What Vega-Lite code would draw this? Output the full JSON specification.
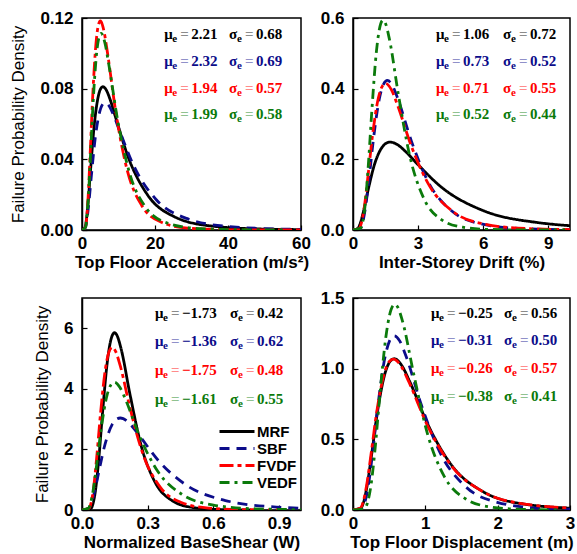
{
"$schema": "https://vega.github.io/schema/vega-lite/v6.json",
"background": "white",
"padding": {"left": 9, "top": 8, "right": 2, "bottom": 2},
"config": {
  "view": {"stroke": "black", "strokeWidth": 1.5},
  "axis": {"domainColor": "black", "domainWidth": 1.5, "tickColor": "black", "tickSize": -5, "tickWidth": 1.2, "grid": false,
    "labelFont": "Liberation Sans", "labelFontWeight": "bold", "labelFontSize": 17, "labelColor": "black", "labelFlush": false, "labelOverlap": false,
    "titleFont": "Liberation Sans", "titleFontSize": 17, "titleColor": "black"},
  "axisX": {"titleFontWeight": "bold", "labelPadding": 10, "titlePadding": 3},
  "axisY": {"titleFontWeight": "normal", "labelPadding": 14, "titlePadding": 12}
},
"datasets": {
"A": [
{"s":"MRF","x":0,"y":0},{"s":"MRF","x":0.8437,"y":0.001522},{"s":"MRF","x":1.185,"y":0.005499},{"s":"MRF","x":1.665,"y":0.01548},{"s":"MRF","x":2.34,"y":0.03394},{"s":"MRF","x":3.287,"y":0.05794},{"s":"MRF","x":4.618,"y":0.07705},{"s":"MRF","x":5.474,"y":0.0809},{"s":"MRF","x":5.741,"y":0.08111},{"s":"MRF","x":6.488,"y":0.0798},{"s":"MRF","x":7.691,"y":0.07394},{"s":"MRF","x":9.116,"y":0.06436},{"s":"MRF","x":12.81,"y":0.04043},{"s":"MRF","x":17.99,"y":0.01978},{"s":"MRF","x":25.28,"y":0.007534},{"s":"MRF","x":35.52,"y":0.002236},{"s":"MRF","x":49.9,"y":0.0005166},{"s":"MRF","x":70.11,"y":0.000093},
{"s":"SBF","x":0,"y":0},{"s":"SBF","x":0.9094,"y":0.001391},{"s":"SBF","x":1.284,"y":0.005002},{"s":"SBF","x":1.813,"y":0.01401},{"s":"SBF","x":2.56,"y":0.03057},{"s":"SBF","x":3.615,"y":0.05193},{"s":"SBF","x":5.104,"y":0.06871},{"s":"SBF","x":6.065,"y":0.07196},{"s":"SBF","x":6.321,"y":0.07209},{"s":"SBF","x":7.207,"y":0.0708},{"s":"SBF","x":8.564,"y":0.06544},{"s":"SBF","x":10.18,"y":0.05682},{"s":"SBF","x":14.37,"y":0.03551},{"s":"SBF","x":20.29,"y":0.01729},{"s":"SBF","x":28.65,"y":0.006553},{"s":"SBF","x":40.45,"y":0.001935},{"s":"SBF","x":57.11,"y":0.0004448},{"s":"SBF","x":80.64,"y":0.0000797},
{"s":"FVDF","x":0,"y":0},{"s":"FVDF","x":0.9464,"y":0.001618},{"s":"FVDF","x":1.259,"y":0.006178},{"s":"FVDF","x":1.674,"y":0.01837},{"s":"FVDF","x":2.225,"y":0.04256},{"s":"FVDF","x":2.959,"y":0.07678},{"s":"FVDF","x":3.935,"y":0.1079},{"s":"FVDF","x":4.538,"y":0.1164},{"s":"FVDF","x":5.028,"y":0.1183},{"s":"FVDF","x":5.233,"y":0.118},{"s":"FVDF","x":6.034,"y":0.1124},{"s":"FVDF","x":6.958,"y":0.1006},{"s":"FVDF","x":9.253,"y":0.06675},{"s":"FVDF","x":12.3,"y":0.0345},{"s":"FVDF","x":16.36,"y":0.01389},{"s":"FVDF","x":21.76,"y":0.004353},{"s":"FVDF","x":28.93,"y":0.001063},{"s":"FVDF","x":38.47,"y":0.0002021},{"s":"FVDF","x":51.16,"y":0.0000299},{"s":"FVDF","x":68.0,"y":0.000003},
{"s":"VEDF","x":0,"y":0},{"s":"VEDF","x":0.9608,"y":0.001567},{"s":"VEDF","x":1.284,"y":0.005951},{"s":"VEDF","x":1.716,"y":0.01761},{"s":"VEDF","x":2.293,"y":0.04059},{"s":"VEDF","x":3.065,"y":0.07286},{"s":"VEDF","x":4.096,"y":0.1019},{"s":"VEDF","x":4.735,"y":0.1097},{"s":"VEDF","x":5.226,"y":0.1113},{"s":"VEDF","x":5.474,"y":0.1109},{"s":"VEDF","x":6.328,"y":0.1054},{"s":"VEDF","x":7.315,"y":0.09403},{"s":"VEDF","x":9.776,"y":0.06209},{"s":"VEDF","x":13.07,"y":0.03193},{"s":"VEDF","x":17.46,"y":0.01279},{"s":"VEDF","x":23.34,"y":0.003989},{"s":"VEDF","x":31.19,"y":0.0009691},{"s":"VEDF","x":41.68,"y":0.0001834},{"s":"VEDF","x":55.7,"y":0.000027}
],
"B": [
{"s":"MRF","x":0,"y":0},{"s":"MRF","x":0.2322,"y":0.005221},{"s":"MRF","x":0.3329,"y":0.01849},{"s":"MRF","x":0.4771,"y":0.05102},{"s":"MRF","x":0.6839,"y":0.1097},{"s":"MRF","x":0.9802,"y":0.1835},{"s":"MRF","x":1.405,"y":0.2392},{"s":"MRF","x":1.682,"y":0.2487},{"s":"MRF","x":1.719,"y":0.2488},{"s":"MRF","x":2.014,"y":0.2428},{"s":"MRF","x":2.411,"y":0.2228},{"s":"MRF","x":2.886,"y":0.192},{"s":"MRF","x":4.137,"y":0.1182},{"s":"MRF","x":5.93,"y":0.05667},{"s":"MRF","x":8.499,"y":0.02117},{"s":"MRF","x":12.18,"y":0.006155},
{"s":"SBF","x":0,"y":0},{"s":"SBF","x":0.3362,"y":0.004993},{"s":"SBF","x":0.4361,"y":0.01955},{"s":"SBF","x":0.5655,"y":0.05961},{"s":"SBF","x":0.7334,"y":0.1416},{"s":"SBF","x":0.9512,"y":0.2618},{"s":"SBF","x":1.234,"y":0.3772},{"s":"SBF","x":1.405,"y":0.4122},{"s":"SBF","x":1.584,"y":0.4232},{"s":"SBF","x":1.822,"y":0.4081},{"s":"SBF","x":2.075,"y":0.3697},{"s":"SBF","x":2.691,"y":0.2516},{"s":"SBF","x":3.49,"y":0.1333},{"s":"SBF","x":4.527,"y":0.05502},{"s":"SBF","x":5.871,"y":0.01769},{"s":"SBF","x":7.614,"y":0.004427},{"s":"SBF","x":9.875,"y":0.0008631},{"s":"SBF","x":12.81,"y":0.000131},
{"s":"FVDF","x":0,"y":0},{"s":"FVDF","x":0.2967,"y":0.00535},{"s":"FVDF","x":0.3906,"y":0.02063},{"s":"FVDF","x":0.5143,"y":0.06197},{"s":"FVDF","x":0.6771,"y":0.145},{"s":"FVDF","x":0.8914,"y":0.2642},{"s":"FVDF","x":1.174,"y":0.3749},{"s":"FVDF","x":1.347,"y":0.4066},{"s":"FVDF","x":1.503,"y":0.4148},{"s":"FVDF","x":1.773,"y":0.3966},{"s":"FVDF","x":2.034,"y":0.3566},{"s":"FVDF","x":2.678,"y":0.239},{"s":"FVDF","x":3.525,"y":0.1248},{"s":"FVDF","x":4.641,"y":0.05074},{"s":"FVDF","x":6.11,"y":0.01607},{"s":"FVDF","x":8.044,"y":0.003962},{"s":"FVDF","x":10.59,"y":0.000761},
{"s":"VEDF","x":0,"y":0},{"s":"VEDF","x":0.3606,"y":0.005502},{"s":"VEDF","x":0.4493,"y":0.02242},{"s":"VEDF","x":0.5599,"y":0.07115},{"s":"VEDF","x":0.6977,"y":0.1759},{"s":"VEDF","x":0.8694,"y":0.3386},{"s":"VEDF","x":1.083,"y":0.5077},{"s":"VEDF","x":1.209,"y":0.566},{"s":"VEDF","x":1.35,"y":0.5928},{"s":"VEDF","x":1.386,"y":0.5938},{"s":"VEDF","x":1.507,"y":0.5832},{"s":"VEDF","x":1.682,"y":0.539},{"s":"VEDF","x":2.096,"y":0.3818},{"s":"VEDF","x":2.612,"y":0.2106},{"s":"VEDF","x":3.254,"y":0.09045},{"s":"VEDF","x":4.055,"y":0.03026},{"s":"VEDF","x":5.053,"y":0.007884},{"s":"VEDF","x":6.297,"y":0.0016},{"s":"VEDF","x":7.846,"y":0.000253},{"s":"VEDF","x":9.777,"y":0.000031}
],
"C": [
{"s":"MRF","x":0,"y":0},{"s":"MRF","x":0.04076,"y":0.05099},{"s":"MRF","x":0.05029,"y":0.2098},{"s":"MRF","x":0.06204,"y":0.6727},{"s":"MRF","x":0.07654,"y":1.68},{"s":"MRF","x":0.09442,"y":3.266},{"s":"MRF","x":0.1165,"y":4.946},{"s":"MRF","x":0.1294,"y":5.542},{"s":"MRF","x":0.1437,"y":5.833},{"s":"MRF","x":0.1486,"y":5.852},{"s":"MRF","x":0.1596,"y":5.768},{"s":"MRF","x":0.1773,"y":5.358},{"s":"MRF","x":0.2187,"y":3.833},{"s":"MRF","x":0.2698,"y":2.135},{"s":"MRF","x":0.3329,"y":0.9264},{"s":"MRF","x":0.4107,"y":0.313},{"s":"MRF","x":0.5066,"y":0.08238},{"s":"MRF","x":0.625,"y":0.01688},{"s":"MRF","x":0.7711,"y":0.002696},
{"s":"SBF","x":0,"y":0},{"s":"SBF","x":0.02931,"y":0.04805},{"s":"SBF","x":0.03995,"y":0.1789},{"s":"SBF","x":0.05448,"y":0.519},{"s":"SBF","x":0.07427,"y":1.172},{"s":"SBF","x":0.1013,"y":2.063},{"s":"SBF","x":0.1381,"y":2.827},{"s":"SBF","x":0.1612,"y":3.013},{"s":"SBF","x":0.1747,"y":3.038},{"s":"SBF","x":0.1882,"y":3.017},{"s":"SBF","x":0.2198,"y":2.837},{"s":"SBF","x":0.2567,"y":2.507},{"s":"SBF","x":0.3499,"y":1.623},{"s":"SBF","x":0.4771,"y":0.818},{"s":"SBF","x":0.6505,"y":0.3211},{"s":"SBF","x":0.8869,"y":0.09818},{"s":"SBF","x":1.209,"y":0.02338},
{"s":"FVDF","x":0,"y":0},{"s":"FVDF","x":0.03239,"y":0.05616},{"s":"FVDF","x":0.04117,"y":0.2243},{"s":"FVDF","x":0.05234,"y":0.6977},{"s":"FVDF","x":0.06654,"y":1.691},{"s":"FVDF","x":0.08459,"y":3.19},{"s":"FVDF","x":0.1075,"y":4.688},{"s":"FVDF","x":0.1212,"y":5.175},{"s":"FVDF","x":0.138,"y":5.367},{"s":"FVDF","x":0.1541,"y":5.227},{"s":"FVDF","x":0.1738,"y":4.783},{"s":"FVDF","x":0.2209,"y":3.32},{"s":"FVDF","x":0.2808,"y":1.795},{"s":"FVDF","x":0.357,"y":0.7558},{"s":"FVDF","x":0.4538,"y":0.2478},{"s":"FVDF","x":0.577,"y":0.06329},{"s":"FVDF","x":0.7334,"y":0.01259},{"s":"FVDF","x":0.9324,"y":0.001951},
{"s":"VEDF","x":0,"y":0},{"s":"VEDF","x":0.02916,"y":0.05444},{"s":"VEDF","x":0.03839,"y":0.2099},{"s":"VEDF","x":0.05054,"y":0.6306},{"s":"VEDF","x":0.06654,"y":1.475},{"s":"VEDF","x":0.0876,"y":2.688},{"s":"VEDF","x":0.1153,"y":3.815},{"s":"VEDF","x":0.1323,"y":4.138},{"s":"VEDF","x":0.1477,"y":4.221},{"s":"VEDF","x":0.1518,"y":4.216},{"s":"VEDF","x":0.1742,"y":4.036},{"s":"VEDF","x":0.1999,"y":3.629},{"s":"VEDF","x":0.2632,"y":2.432},{"s":"VEDF","x":0.3465,"y":1.27},{"s":"VEDF","x":0.4561,"y":0.5163},{"s":"VEDF","x":0.6005,"y":0.1635},{"s":"VEDF","x":0.7906,"y":0.04031},{"s":"VEDF","x":1.041,"y":0.007742}
],
"D": [
{"s":"MRF","x":0,"y":0},{"s":"MRF","x":0.1097,"y":0.01421},{"s":"MRF","x":0.1452,"y":0.05453},{"s":"MRF","x":0.1921,"y":0.163},{"s":"MRF","x":0.2541,"y":0.3794},{"s":"MRF","x":0.3362,"y":0.6879},{"s":"MRF","x":0.4449,"y":0.9713},{"s":"MRF","x":0.5117,"y":1.051},{"s":"MRF","x":0.5692,"y":1.07},{"s":"MRF","x":0.5886,"y":1.068},{"s":"MRF","x":0.6771,"y":1.02},{"s":"MRF","x":0.7788,"y":0.9147},{"s":"MRF","x":1.03,"y":0.6101},{"s":"MRF","x":1.363,"y":0.3169},{"s":"MRF","x":1.804,"y":0.1282},{"s":"MRF","x":2.387,"y":0.04039},{"s":"MRF","x":3.158,"y":0.009911},
{"s":"SBF","x":0,"y":0},{"s":"SBF","x":0.1275,"y":0.0137},{"s":"SBF","x":0.1637,"y":0.05416},{"s":"SBF","x":0.2101,"y":0.1668},{"s":"SBF","x":0.2698,"y":0.4002},{"s":"SBF","x":0.3465,"y":0.7477},{"s":"SBF","x":0.4449,"y":1.088},{"s":"SBF","x":0.5041,"y":1.195},{"s":"SBF","x":0.5712,"y":1.233},{"s":"SBF","x":0.6473,"y":1.195},{"s":"SBF","x":0.7334,"y":1.088},{"s":"SBF","x":0.9418,"y":0.7477},{"s":"SBF","x":1.209,"y":0.4002},{"s":"SBF","x":1.553,"y":0.1668},{"s":"SBF","x":1.994,"y":0.05416},{"s":"SBF","x":2.56,"y":0.01369},{"s":"SBF","x":3.287,"y":0.002697},
{"s":"FVDF","x":0,"y":0},{"s":"FVDF","x":0.1049,"y":0.0146},{"s":"FVDF","x":0.1395,"y":0.05575},{"s":"FVDF","x":0.1854,"y":0.1658},{"s":"FVDF","x":0.2466,"y":0.3841},{"s":"FVDF","x":0.3279,"y":0.6929},{"s":"FVDF","x":0.4361,"y":0.9735},{"s":"FVDF","x":0.5028,"y":1.051},{"s":"FVDF","x":0.5572,"y":1.068},{"s":"FVDF","x":0.5798,"y":1.065},{"s":"FVDF","x":0.6687,"y":1.015},{"s":"FVDF","x":0.7711,"y":0.9077},{"s":"FVDF","x":1.025,"y":0.6024},{"s":"FVDF","x":1.363,"y":0.3114},{"s":"FVDF","x":1.813,"y":0.1253},{"s":"FVDF","x":2.411,"y":0.03929},{"s":"FVDF","x":3.206,"y":0.009592},
{"s":"VEDF","x":0,"y":0},{"s":"VEDF","x":0.1628,"y":0.01229},{"s":"VEDF","x":0.1999,"y":0.05083},{"s":"VEDF","x":0.2454,"y":0.1638},{"s":"VEDF","x":0.3012,"y":0.411},{"s":"VEDF","x":0.3697,"y":0.8032},{"s":"VEDF","x":0.4539,"y":1.222},{"s":"VEDF","x":0.5028,"y":1.373},{"s":"VEDF","x":0.5571,"y":1.449},{"s":"VEDF","x":0.578,"y":1.455},{"s":"VEDF","x":0.6172,"y":1.436},{"s":"VEDF","x":0.6839,"y":1.337},{"s":"VEDF","x":0.8395,"y":0.9615},{"s":"VEDF","x":1.03,"y":0.5384},{"s":"VEDF","x":1.265,"y":0.2348},{"s":"VEDF","x":1.553,"y":0.07972},{"s":"VEDF","x":1.906,"y":0.02108},{"s":"VEDF","x":2.34,"y":0.004343},{"s":"VEDF","x":2.872,"y":0.000697}
],
"notes": [
{"p":"A","s":"MRF","sym":"μ","v":"2.21","x":22.5,"y":0.111},{"p":"A","s":"MRF","sym":"σ","v":"0.68","x":40.3,"y":0.111},
{"p":"A","s":"SBF","sym":"μ","v":"2.32","x":22.5,"y":0.0958},{"p":"A","s":"SBF","sym":"σ","v":"0.69","x":40.3,"y":0.0958},
{"p":"A","s":"FVDF","sym":"μ","v":"1.94","x":22.5,"y":0.0806},{"p":"A","s":"FVDF","sym":"σ","v":"0.57","x":40.3,"y":0.0806},
{"p":"A","s":"VEDF","sym":"μ","v":"1.99","x":22.5,"y":0.0654},{"p":"A","s":"VEDF","sym":"σ","v":"0.58","x":40.3,"y":0.0654},
{"p":"B","s":"MRF","sym":"μ","v":"1.06","x":3.82,"y":0.555},{"p":"B","s":"MRF","sym":"σ","v":"0.72","x":6.91,"y":0.555},
{"p":"B","s":"SBF","sym":"μ","v":"0.73","x":3.82,"y":0.479},{"p":"B","s":"SBF","sym":"σ","v":"0.52","x":6.91,"y":0.479},
{"p":"B","s":"FVDF","sym":"μ","v":"0.71","x":3.82,"y":0.403},{"p":"B","s":"FVDF","sym":"σ","v":"0.55","x":6.91,"y":0.403},
{"p":"B","s":"VEDF","sym":"μ","v":"0.52","x":3.82,"y":0.327},{"p":"B","s":"VEDF","sym":"σ","v":"0.44","x":6.91,"y":0.327},
{"p":"C","s":"MRF","sym":"μ","v":"−1.73","x":0.333,"y":6.51},{"p":"C","s":"MRF","sym":"σ","v":"0.42","x":0.676,"y":6.51},
{"p":"C","s":"SBF","sym":"μ","v":"−1.36","x":0.333,"y":5.57},{"p":"C","s":"SBF","sym":"σ","v":"0.62","x":0.676,"y":5.57},
{"p":"C","s":"FVDF","sym":"μ","v":"−1.75","x":0.333,"y":4.61},{"p":"C","s":"FVDF","sym":"σ","v":"0.48","x":0.676,"y":4.61},
{"p":"C","s":"VEDF","sym":"μ","v":"−1.61","x":0.333,"y":3.66},{"p":"C","s":"VEDF","sym":"σ","v":"0.55","x":0.676,"y":3.66},
{"p":"D","s":"MRF","sym":"μ","v":"−0.25","x":1.078,"y":1.395},{"p":"D","s":"MRF","sym":"σ","v":"0.56","x":2.088,"y":1.395},
{"p":"D","s":"SBF","sym":"μ","v":"−0.31","x":1.078,"y":1.2},{"p":"D","s":"SBF","sym":"σ","v":"0.50","x":2.088,"y":1.2},
{"p":"D","s":"FVDF","sym":"μ","v":"−0.26","x":1.078,"y":1.005},{"p":"D","s":"FVDF","sym":"σ","v":"0.57","x":2.088,"y":1.005},
{"p":"D","s":"VEDF","sym":"μ","v":"−0.38","x":1.078,"y":0.808},{"p":"D","s":"VEDF","sym":"σ","v":"0.41","x":2.088,"y":0.808}
]
},
"columns": 2,
"spacing": {"row": 68, "column": 52},
"bounds": "flush",
"resolve": {"scale": {"color": "independent", "strokeDash": "independent"}},
"concat": [
{"width": 219, "height": 212, "layer": [
 {"data": {"name": "A"}, "mark": {"type": "line", "strokeWidth": 2.8, "interpolate": "monotone", "clip": true},
  "encoding": {
   "x": {"field": "x", "type": "quantitative", "scale": {"domain": [0, 60], "nice": false}, "axis": {"title": "Top Floor Acceleration (m/s²)", "values": [0,10,20,30,40,50,60], "labelExpr": "datum.value % 20 === 0 ? datum.label : ''"}},
   "y": {"field": "y", "type": "quantitative", "scale": {"domain": [0, 0.12], "nice": false}, "axis": {"title": "Failure Probability Density", "values": [0,0.02,0.04,0.06,0.08,0.1,0.12], "format": ".2f", "labelExpr": "round(datum.value*100) % 4 === 0 ? datum.label : ''"}},
   "color": {"field": "s", "type": "nominal", "scale": {"domain": ["MRF","SBF","FVDF","VEDF"], "range": ["#000000","#0c0c8a","#ff0000","#0b7a0b"]}, "legend": null},
   "strokeDash": {"field": "s", "type": "nominal", "scale": {"domain": ["MRF","SBF","FVDF","VEDF"], "range": [[1,0],[10,7],[14,4,4,4],[10,5,3,5]]}, "legend": null}
  }},
 {"data": {"name": "notes"}, "transform": [{"filter": "datum.p === 'A'"}],
  "encoding": {"x": {"field": "x", "type": "quantitative"}, "y": {"field": "y", "type": "quantitative"}, "color": {"field": "s", "type": "nominal", "legend": null}},
  "layer": [
   {"mark": {"type": "text", "align": "left", "baseline": "middle", "font": "Liberation Serif", "fontSize": 15, "fontWeight": "bold"}, "encoding": {"text": {"field": "sym"}}},
   {"mark": {"type": "text", "text": "e", "align": "left", "baseline": "middle", "font": "Liberation Serif", "fontSize": 11, "fontWeight": "bold", "dx": 8, "dy": 5}},
   {"mark": {"type": "text", "text": "=", "align": "left", "baseline": "middle", "font": "Liberation Serif", "fontSize": 15, "fontWeight": "bold", "dx": 16, "opacity": 0.45}},
   {"mark": {"type": "text", "align": "left", "baseline": "middle", "font": "Liberation Serif", "fontSize": 15, "fontWeight": "bold", "dx": 27}, "encoding": {"text": {"field": "v"}}}
  ]}
]},
{"width": 217, "height": 212, "layer": [
 {"data": {"name": "B"}, "mark": {"type": "line", "strokeWidth": 2.8, "interpolate": "monotone", "clip": true},
  "encoding": {
   "x": {"field": "x", "type": "quantitative", "scale": {"domain": [0, 10], "nice": false}, "axis": {"title": "Inter-Storey Drift (%)", "values": [0,1.5,3,4.5,6,7.5,9], "labelExpr": "datum.value % 3 === 0 ? datum.label : ''"}},
   "y": {"field": "y", "type": "quantitative", "scale": {"domain": [0, 0.6], "nice": false}, "axis": {"title": null, "values": [0,0.1,0.2,0.3,0.4,0.5,0.6], "format": ".1f", "labelExpr": "round(datum.value*10) % 2 === 0 ? datum.label : ''"}},
   "color": {"field": "s", "type": "nominal", "scale": {"domain": ["MRF","SBF","FVDF","VEDF"], "range": ["#000000","#0c0c8a","#ff0000","#0b7a0b"]}, "legend": null},
   "strokeDash": {"field": "s", "type": "nominal", "scale": {"domain": ["MRF","SBF","FVDF","VEDF"], "range": [[1,0],[10,7],[14,4,4,4],[10,5,3,5]]}, "legend": null}
  }},
 {"data": {"name": "notes"}, "transform": [{"filter": "datum.p === 'B'"}],
  "encoding": {"x": {"field": "x", "type": "quantitative"}, "y": {"field": "y", "type": "quantitative"}, "color": {"field": "s", "type": "nominal", "legend": null}},
  "layer": [
   {"mark": {"type": "text", "align": "left", "baseline": "middle", "font": "Liberation Serif", "fontSize": 15, "fontWeight": "bold"}, "encoding": {"text": {"field": "sym"}}},
   {"mark": {"type": "text", "text": "e", "align": "left", "baseline": "middle", "font": "Liberation Serif", "fontSize": 11, "fontWeight": "bold", "dx": 8, "dy": 5}},
   {"mark": {"type": "text", "text": "=", "align": "left", "baseline": "middle", "font": "Liberation Serif", "fontSize": 15, "fontWeight": "bold", "dx": 16, "opacity": 0.45}},
   {"mark": {"type": "text", "align": "left", "baseline": "middle", "font": "Liberation Serif", "fontSize": 15, "fontWeight": "bold", "dx": 27}, "encoding": {"text": {"field": "v"}}}
  ]}
]},
{"width": 219, "height": 212, "layer": [
 {"data": {"name": "C"}, "mark": {"type": "line", "strokeWidth": 2.8, "interpolate": "monotone", "clip": true},
  "encoding": {
   "x": {"field": "x", "type": "quantitative", "scale": {"domain": [0, 1], "nice": false}, "axis": {"title": "Normalized BaseShear (W)", "values": [0,0.15,0.3,0.45,0.6,0.75,0.9], "format": ".1f", "labelExpr": "round(datum.value*100) % 30 === 0 ? datum.label : ''"}},
   "y": {"field": "y", "type": "quantitative", "scale": {"domain": [0, 7], "nice": false}, "axis": {"title": "Failure Probability Density", "values": [0,1,2,3,4,5,6,7], "labelExpr": "datum.value % 2 === 0 ? datum.label : ''"}},
   "color": {"field": "s", "type": "nominal", "scale": {"domain": ["MRF","SBF","FVDF","VEDF"], "range": ["#000000","#0c0c8a","#ff0000","#0b7a0b"]},
     "legend": {"title": " ", "titleOrient": "bottom", "titleFontSize": 12, "titlePadding": 5, "orient": "bottom-right", "offset": 3, "padding": 0, "symbolType": "stroke", "symbolSize": 1225, "symbolStrokeWidth": 3, "labelFont": "Liberation Sans", "labelFontWeight": "bold", "labelFontSize": 15, "labelColor": "black", "labelOffset": 1, "rowPadding": 0, "clipHeight": 17}},
   "strokeDash": {"field": "s", "type": "nominal", "scale": {"domain": ["MRF","SBF","FVDF","VEDF"], "range": [[1,0],[10,7],[14,4,4,4],[10,5,3,5]]},
     "legend": {"title": " ", "titleOrient": "bottom", "titleFontSize": 12, "titlePadding": 5, "orient": "bottom-right", "offset": 3, "padding": 0, "symbolType": "stroke", "symbolSize": 1225, "symbolStrokeWidth": 3, "labelFont": "Liberation Sans", "labelFontWeight": "bold", "labelFontSize": 15, "labelColor": "black", "labelOffset": 1, "rowPadding": 0, "clipHeight": 17}}
  }},
 {"data": {"name": "notes"}, "transform": [{"filter": "datum.p === 'C'"}],
  "encoding": {"x": {"field": "x", "type": "quantitative"}, "y": {"field": "y", "type": "quantitative"}, "color": {"field": "s", "type": "nominal", "legend": null}},
  "layer": [
   {"mark": {"type": "text", "align": "left", "baseline": "middle", "font": "Liberation Serif", "fontSize": 15, "fontWeight": "bold"}, "encoding": {"text": {"field": "sym"}}},
   {"mark": {"type": "text", "text": "e", "align": "left", "baseline": "middle", "font": "Liberation Serif", "fontSize": 11, "fontWeight": "bold", "dx": 8, "dy": 5}},
   {"mark": {"type": "text", "text": "=", "align": "left", "baseline": "middle", "font": "Liberation Serif", "fontSize": 15, "fontWeight": "bold", "dx": 16, "opacity": 0.45}},
   {"mark": {"type": "text", "align": "left", "baseline": "middle", "font": "Liberation Serif", "fontSize": 15, "fontWeight": "bold", "dx": 27}, "encoding": {"text": {"field": "v"}}}
  ]}
]},
{"width": 217, "height": 212, "layer": [
 {"data": {"name": "D"}, "mark": {"type": "line", "strokeWidth": 2.8, "interpolate": "monotone", "clip": true},
  "encoding": {
   "x": {"field": "x", "type": "quantitative", "scale": {"domain": [0, 3], "nice": false}, "axis": {"title": "Top Floor Displacement (m)", "values": [0,0.5,1,1.5,2,2.5,3], "format": ".0f", "labelExpr": "datum.value % 1 === 0 ? datum.label : ''"}},
   "y": {"field": "y", "type": "quantitative", "scale": {"domain": [0, 1.5], "nice": false}, "axis": {"title": null, "values": [0,0.25,0.5,0.75,1,1.25,1.5], "format": ".1f", "labelExpr": "round(datum.value*100) % 50 === 0 ? format(datum.value, '.1f') : ''"}},
   "color": {"field": "s", "type": "nominal", "scale": {"domain": ["MRF","SBF","FVDF","VEDF"], "range": ["#000000","#0c0c8a","#ff0000","#0b7a0b"]}, "legend": null},
   "strokeDash": {"field": "s", "type": "nominal", "scale": {"domain": ["MRF","SBF","FVDF","VEDF"], "range": [[1,0],[10,7],[14,4,4,4],[10,5,3,5]]}, "legend": null}
  }},
 {"data": {"name": "notes"}, "transform": [{"filter": "datum.p === 'D'"}],
  "encoding": {"x": {"field": "x", "type": "quantitative"}, "y": {"field": "y", "type": "quantitative"}, "color": {"field": "s", "type": "nominal", "legend": null}},
  "layer": [
   {"mark": {"type": "text", "align": "left", "baseline": "middle", "font": "Liberation Serif", "fontSize": 15, "fontWeight": "bold"}, "encoding": {"text": {"field": "sym"}}},
   {"mark": {"type": "text", "text": "e", "align": "left", "baseline": "middle", "font": "Liberation Serif", "fontSize": 11, "fontWeight": "bold", "dx": 8, "dy": 5}},
   {"mark": {"type": "text", "text": "=", "align": "left", "baseline": "middle", "font": "Liberation Serif", "fontSize": 15, "fontWeight": "bold", "dx": 16, "opacity": 0.45}},
   {"mark": {"type": "text", "align": "left", "baseline": "middle", "font": "Liberation Serif", "fontSize": 15, "fontWeight": "bold", "dx": 27}, "encoding": {"text": {"field": "v"}}}
  ]}
]}
]
}
